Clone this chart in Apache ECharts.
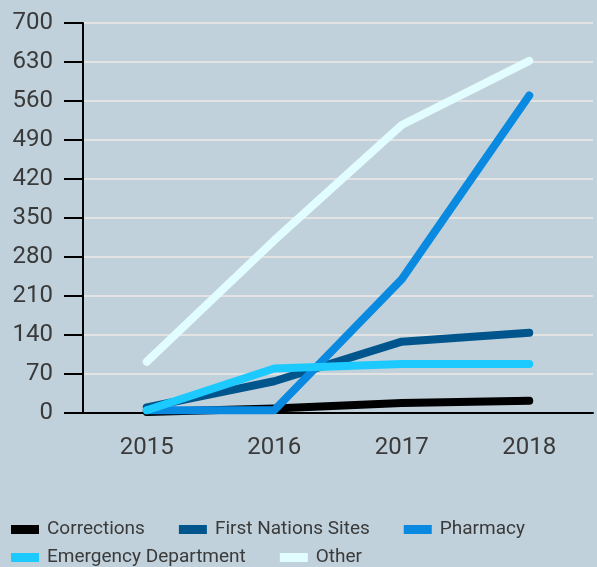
<!DOCTYPE html>
<html>
<head>
<meta charset="utf-8">
<script src="https://cdn.jsdelivr.net/npm/echarts@6/dist/echarts.min.js"></script>
<style>
html,body{margin:0;padding:0;background:#c0d1db;}
#c{width:597px;height:567px;}
</style>
</head>
<body>
<div id="c"></div>
<script>
const years = ['2015', '2016', '2017', '2018'];
const yTicks = [0, 70, 140, 210, 280, 350, 420, 490, 560, 630, 700];
const corrections = [2, 8, 18, 22];
const firstNations = [10, 57, 128, 144];
const pharmacy = [5, 5, 240, 570];
const emergency = [5, 80, 88, 88];
const other = [92, 310, 517, 632];

const names = ['Corrections', 'First Nations Sites', 'Pharmacy', 'Emergency Department', 'Other'];
const colors = ['#000000', '#00568c', '#0a89e0', '#1ccaff', '#e2fdff'];
const values = [corrections, firstNations, pharmacy, emergency, other];

const font = 'Roboto';
const chart = echarts.init(document.getElementById('c'));
const legendBase = {
  orient: 'horizontal',
  left: 11,
  padding: 0,
  itemWidth: 28,
  itemHeight: 9,
  itemGap: 34,
  icon: 'rect',
  textStyle: {fontFamily: font, fontSize: 19, color: '#3a3a3a', padding: [0, 0, 0, 3]}
};
chart.setOption({
  backgroundColor: '#c0d1db',
  animation: false,
  grid: {left: 83, right: 4, top: 23, bottom: 154, containLabel: false},
  legend: [
    Object.assign({}, legendBase, {top: 520, data: names.slice(0, 3)}),
    Object.assign({}, legendBase, {top: 548, data: names.slice(3)})
  ],
  xAxis: {
    type: 'category',
    data: years,
    boundaryGap: true,
    axisLine: {lineStyle: {color: '#000', width: 2}},
    axisTick: {alignWithLabel: true, length: 19, lineStyle: {color: '#000', width: 2}},
    axisLabel: {fontFamily: font, fontSize: 24, color: '#3a3a3a', margin: 23}
  },
  yAxis: {
    type: 'value',
    min: yTicks[0],
    max: yTicks[yTicks.length - 1],
    interval: yTicks[1] - yTicks[0],
    axisLine: {show: true, lineStyle: {color: '#000', width: 2}},
    axisTick: {show: true, length: 19, lineStyle: {color: '#000', width: 2}},
    axisLabel: {fontFamily: font, fontSize: 24, color: '#3a3a3a', margin: 30, padding: [3, 0, 0, 0]},
    splitLine: {lineStyle: {color: '#e3e3e3', width: 2}}
  },
  series: names.map((n, i) => ({
    name: n,
    type: 'line',
    data: values[i],
    symbol: 'none',
    color: colors[i],
    lineStyle: {width: 8, color: colors[i], cap: 'round', join: 'round'}
  }))
});
</script>
</body>
</html>
